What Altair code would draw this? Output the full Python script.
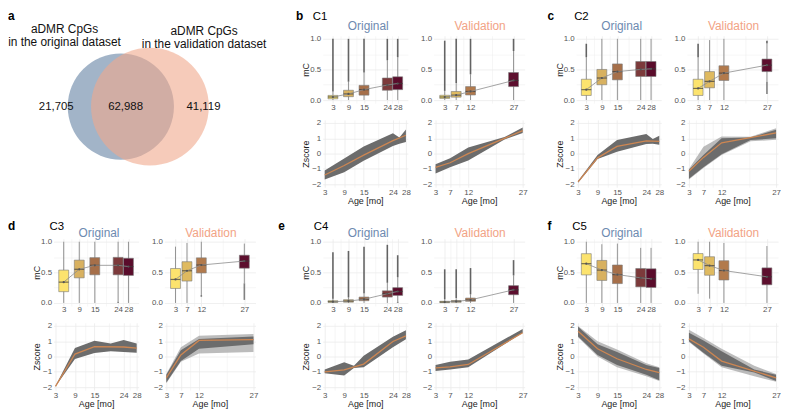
import math
import altair as alt
import pandas as pd

# ------------------------------------------------------------------ data
# panel a: Venn counts
VENN_ONLY_ORIG = 21705
VENN_BOTH = 62988
VENN_ONLY_VAL = 41119
VENN_NUMBER_LABELS = ["21,705", "62,988", "41,119"]
VENN_SET_TITLES = ["aDMR CpGs\nin the original dataset", "aDMR CpGs\nin the validation dataset"]

AGES_ORIG = [3, 9, 15, 24, 28]
AGES_VAL = [3, 7, 12, 27]
CLUSTERS = ["C1", "C2", "C3", "C4", "C5"]
PANEL_LETTERS = ["b", "c", "d", "e", "f"]
DATASETS = ["Original", "Validation"]

# box plots, one row per age: (outlier_min, whisker_lo, q1, median, q3, whisker_hi, outlier_max)
C1_ORIG_BOX = [(0, 0, 0.02, 0.05, 0.076, 0.14, 1.0), (0, 0, 0.055, 0.10, 0.16, 0.30, 1.0),
               (0, 0, 0.08, 0.17, 0.24, 0.45, 1.0), (0, 0, 0.16, 0.245, 0.36, 0.65, 1.0),
               (0, 0, 0.17, 0.27, 0.38, 0.70, 1.0)]
C1_VAL_BOX = [(0, 0, 0.026, 0.05, 0.078, 0.15, 0.97), (0, 0, 0.047, 0.08, 0.14, 0.28, 1.0),
              (0, 0, 0.083, 0.14, 0.22, 0.42, 1.0), (0, 0, 0.22, 0.32, 0.45, 0.80, 1.0)]
C2_ORIG_BOX = [(0, 0, 0.075, 0.17, 0.34, 0.70, 0.92), (0, 0, 0.25, 0.36, 0.50, 1.0, 1.0),
               (0, 0, 0.33, 0.465, 0.59, 1.0, 1.0), (0, 0, 0.385, 0.50, 0.63, 1.0, 1.0),
               (0, 0, 0.385, 0.51, 0.63, 1.0, 1.0)]
C2_VAL_BOX = [(0, 0, 0.075, 0.19, 0.34, 0.70, 0.92), (0, 0, 0.20, 0.305, 0.465, 0.98, 0.98),
              (0, 0, 0.32, 0.44, 0.56, 1.0, 1.0), (0.10, 0.30, 0.465, 0.57, 0.67, 0.93, 0.97)]
C3_ORIG_BOX = [(0, 0, 0.184, 0.34, 0.537, 1.0, 1.0), (0, 0, 0.41, 0.55, 0.70, 1.0, 1.0),
               (0, 0, 0.46, 0.615, 0.74, 1.0, 1.0), (0, 0.02, 0.46, 0.615, 0.745, 1.0, 1.0),
               (0, 0, 0.45, 0.595, 0.73, 1.0, 1.0)]
C3_VAL_BOX = [(0, 0, 0.237, 0.384, 0.563, 0.92, 0.92), (0, 0, 0.358, 0.526, 0.674, 0.98, 0.98),
              (0.10, 0.13, 0.49, 0.62, 0.737, 1.0, 1.0), (0.05, 0.32, 0.568, 0.684, 0.78, 0.97, 0.97)]
C4_ORIG_BOX = [(0, 0, 0.01, 0.02, 0.037, 0.07, 0.83), (0, 0, 0.012, 0.03, 0.053, 0.09, 0.85),
               (0, 0, 0.037, 0.06, 0.096, 0.16, 0.92), (0, 0, 0.096, 0.15, 0.198, 0.33, 0.95),
               (0, 0.02, 0.123, 0.187, 0.25, 0.42, 0.78)]
C4_VAL_BOX = [(0, 0, 0.005, 0.015, 0.027, 0.06, 0.55), (0, 0, 0.01, 0.025, 0.04, 0.08, 0.55),
              (0, 0, 0.027, 0.05, 0.08, 0.14, 0.57), (0, 0, 0.134, 0.214, 0.283, 0.45, 0.70)]
C5_ORIG_BOX = [(0, 0, 0.458, 0.642, 0.805, 1.0, 1.0), (0, 0, 0.368, 0.537, 0.695, 0.96, 0.96),
               (0, 0, 0.316, 0.463, 0.62, 0.97, 0.97), (0, 0, 0.263, 0.41, 0.563, 0.90, 0.90),
               (0, 0, 0.253, 0.395, 0.558, 0.90, 0.90)]
C5_VAL_BOX = [(0.15, 0.15, 0.547, 0.703, 0.807, 1.0, 1.0), (0.07, 0.07, 0.453, 0.61, 0.755, 1.0, 1.0),
              (0, 0, 0.375, 0.53, 0.69, 0.98, 0.98), (0, 0, 0.297, 0.427, 0.573, 0.93, 0.93)]

# z-score trajectories: mean per age, dense band envelope (age, lo, hi), faint outer envelope
C1_ORIG_MEAN = [-1.4, -0.78, -0.1, 0.85, 1.2]
C1_ORIG_BAND = [(3, -1.7, -1.1), (9, -1.22, -0.32), (15, -0.47, 0.47), (24, 0.5, 1.33), (26, 0.65, 1.05), (28, 0.75, 1.57)]
C1_VAL_MEAN = [-0.9, -0.6, 0.0, 1.5]
C1_VAL_BAND = [(3, -1.3, -0.7), (7, -0.9, -0.3), (12, -0.45, 0.4), (22, 0.92, 1.08), (27, 1.35, 1.7)]
C2_ORIG_MEAN = [-1.85, -0.28, 0.47, 0.83, 0.8]
C2_ORIG_BAND = [(3, -1.9, -1.8), (9, -0.36, -0.1), (15, 0.12, 0.88), (24, 0.62, 1.28), (26, 0.65, 0.95), (28, 0.58, 1.17)]
C2_VAL_MEAN = [-1.15, -0.25, 0.7, 1.35]
C2_VAL_BAND = [(3, -1.65, -1.05), (7, -0.9, -0.1), (12, -0.05, 1.0), (20, 0.88, 1.05), (27, 1.0, 1.55)]
C2_VAL_OUTER = [(3, -1.7, -1.0), (7, -0.95, 0.45), (12, -0.1, 1.12), (20, 0.8, 1.1), (27, 0.9, 1.65)]
C3_ORIG_MEAN = [-1.95, 0.16, 0.64, 0.62, 0.55]
C3_ORIG_BAND = [(3, -1.97, -1.93), (9, -0.16, 0.55), (15, 0.23, 1.03), (20, 0.35, 0.85), (24, 0.29, 1.07), (28, 0.25, 0.85)]
C3_VAL_MEAN = [-1.4, 0.1, 1.05, 1.1]
C3_VAL_BAND = [(3, -1.7, -1.2), (7, -0.3, 0.4), (12, 0.5, 1.15), (27, 0.8, 1.3)]
C3_VAL_OUTER = [(3, -1.75, -1.15), (7, -0.35, 0.6), (12, 0.2, 1.36), (27, 0.3, 1.47)]
C4_ORIG_MEAN = [-1.0, -0.88, -0.5, 0.98, 1.35]
C4_ORIG_BAND = [(3, -1.1, -0.85), (9, -1.24, -0.38), (12, -0.75, -0.6), (15, -0.7, 0.05), (24, 0.6, 1.29), (28, 1.13, 1.72)]
C4_VAL_MEAN = [-0.75, -0.68, -0.52, 1.55]
C4_VAL_BAND = [(3, -0.95, -0.55), (7, -0.85, -0.35), (12, -0.7, -0.2), (27, 1.55, 1.8)]
C5_ORIG_MEAN = [1.65, 0.5, -0.15, -0.85, -1.05]
C5_ORIG_BAND = [(3, 1.3, 1.95), (9, 0.1, 0.8), (15, -0.55, 0.3), (24, -1.2, -0.55), (28, -1.55, -0.75)]
C5_ORIG_OUTER = [(3, 1.25, 2.0), (9, 0.0, 1.0), (15, -0.7, 0.45), (24, -1.3, -0.45), (28, -1.6, -0.7)]
C5_VAL_MEAN = [1.15, 0.6, -0.3, -1.4]
C5_VAL_BAND = [(3, 1.0, 1.55), (7, 0.25, 1.05), (12, -0.6, 0.35), (21, -1.05, -0.85), (27, -1.6, -1.2)]
C5_VAL_OUTER = [(3, 0.95, 1.75), (7, 0.2, 1.2), (12, -0.7, 0.5), (21, -1.3, -0.6), (27, -1.65, -1.15)]

BOX_ORIG = [C1_ORIG_BOX, C2_ORIG_BOX, C3_ORIG_BOX, C4_ORIG_BOX, C5_ORIG_BOX]
BOX_VAL = [C1_VAL_BOX, C2_VAL_BOX, C3_VAL_BOX, C4_VAL_BOX, C5_VAL_BOX]
Z_ORIG = [(C1_ORIG_MEAN, C1_ORIG_BAND, None), (C2_ORIG_MEAN, C2_ORIG_BAND, None),
          (C3_ORIG_MEAN, C3_ORIG_BAND, None), (C4_ORIG_MEAN, C4_ORIG_BAND, None),
          (C5_ORIG_MEAN, C5_ORIG_BAND, C5_ORIG_OUTER)]
Z_VAL = [(C1_VAL_MEAN, C1_VAL_BAND, None), (C2_VAL_MEAN, C2_VAL_BAND, C2_VAL_OUTER),
         (C3_VAL_MEAN, C3_VAL_BAND, C3_VAL_OUTER), (C4_VAL_MEAN, C4_VAL_BAND, None),
         (C5_VAL_MEAN, C5_VAL_BAND, C5_VAL_OUTER)]

# ------------------------------------------------------------------ styles
FONT = "Liberation Sans"
AGE_FILL = {3: "#fce36e", 7: "#dfba60", 9: "#d8b160", 12: "#b27a4c", 15: "#a66f49",
            24: "#7c3a3b", 27: "#5d0f2e", 28: "#5a0c2b"}
TITLE_COLORS = {"Original": "#6d8ab0", "Validation": "#f2a385"}
BAND_DARK = "#6c6c6c"
BAND_LIGHT = "#a5a5a5"
MEAN_COLOR = "#cd8652"
GRID = "#ebebeb"
W_ORIG, W_VAL, H = 86, 92, 68
BOX_XDOM_ORIG = [0.98, 30.02]
BOX_XDOM_VAL = [0.85, 29.15]
Z_XDOM_ORIG = [2.4, 28.6]
Z_XDOM_VAL = [2.46, 27.54]
LETTER_DX = [-27, -29, -46, -45, -29]
NAME_DX = [-10, -2, -4, -9, -4]
BOX_COLS = ["omin", "lo", "q1", "med", "q3", "hi", "omax"]


def x_axis(ages, title, label_pad):
    mids = [(a + b) / 2 for a, b in zip(ages[:-1], ages[1:])]
    majors = "[" + ",".join(str(a) for a in ages) + "]"
    test = f"indexof({majors}, datum.value) >= 0"
    return alt.Axis(values=sorted(ages + mids), format="d",
                    labelExpr=f"{test} ? datum.label : ''",
                    gridWidth={"condition": {"test": test, "value": 0.8}, "value": 0.45},
                    title=title, labelFlush=False, labelOverlap=False, labelPadding=label_pad)


def box_chart(stats, ages, width, xdom, dataset, title_y, title_dx, header=None):
    df = pd.DataFrame(stats, columns=BOX_COLS)
    df["age"] = ages
    df["fill"] = [AGE_FILL[a] for a in ages]
    xs = alt.Scale(domain=xdom, nice=False, zero=False)
    ys = alt.Scale(domain=[-0.05, 1.05], nice=False, zero=False)
    minor = "datum.value == 0.25 || datum.value == 0.75"
    yax = alt.Axis(values=[0, 0.25, 0.5, 0.75, 1.0], format=".1f",
                   labelExpr=f"{minor} ? '' : datum.label",
                   gridWidth={"condition": {"test": minor, "value": 0.45}, "value": 0.8},
                   title="mC" if dataset == "Original" else None)
    X = alt.X("age:Q", scale=xs, axis=x_axis(ages, None, 0))

    def Y(f):
        return alt.Y(f, scale=ys, axis=yax)

    base = alt.Chart(df)
    layers = [
        base.mark_rule(color="#7a7a7a", strokeWidth=0.8).encode(x=X, y=Y("lo:Q"), y2="hi:Q"),
        base.mark_rule(color="#333333", strokeWidth=1.6, opacity=0.75).encode(x=X, y=Y("hi:Q"), y2="omax:Q"),
        base.mark_rule(color="#333333", strokeWidth=1.6, opacity=0.6).encode(x=X, y=Y("omin:Q"), y2="lo:Q"),
        base.mark_bar(size=10, stroke="#7a7a7a", strokeWidth=0.6).encode(
            x=X, y=Y("q1:Q"), y2="q3:Q", fill=alt.Fill("fill:N", scale=None)),
        base.mark_tick(orient="horizontal", size=10, thickness=1.2, color="#3a3a3a").encode(x=X, y=Y("med:Q")),
        base.mark_line(color="#8c8c8c", strokeWidth=0.8).encode(x=X, y=Y("med:Q")),
        base.mark_circle(size=5, color="#555555", opacity=1).encode(x=X, y=Y("med:Q")),
    ]
    tdf = pd.DataFrame({"t": [dataset]})
    layers.append(alt.Chart(tdf).mark_text(align="center", baseline="middle", fontSize=12, font=FONT,
                                           color=TITLE_COLORS[dataset])
                  .encode(text="t:N", x=alt.value(width / 2 + title_dx), y=alt.value(title_y)))
    if header is not None:
        letter, ldx, name, ndx, hy = header
        hdf = pd.DataFrame({"letter": [letter], "name": [name]})
        layers.append(alt.Chart(hdf).mark_text(align="left", baseline="alphabetic", fontSize=12,
                                               fontWeight="bold", font=FONT, color="black")
                      .encode(text="letter:N", x=alt.value(ldx), y=alt.value(hy)))
        layers.append(alt.Chart(hdf).mark_text(align="left", baseline="alphabetic", fontSize=11.5,
                                               font=FONT, color="black")
                      .encode(text="name:N", x=alt.value(ndx), y=alt.value(hy)))
    return alt.layer(*layers).properties(width=width, height=H)


def z_chart(ages, mean, band, outer, width, xdom, show_title):
    xs = alt.Scale(domain=xdom, nice=False, zero=False)
    ys = alt.Scale(domain=[-2.2, 2.2], nice=False, zero=False)
    minor = "datum.value % 1 != 0"
    yax = alt.Axis(values=[-2, -1.5, -1, -0.5, 0, 0.5, 1, 1.5, 2], format="d",
                   labelExpr=f"{minor} ? '' : datum.label",
                   gridWidth={"condition": {"test": minor, "value": 0.45}, "value": 0.8},
                   title="Zscore" if show_title else None)
    X = alt.X("age:Q", scale=xs, axis=x_axis(ages, "Age [mo]", 1.5))
    layers = []
    if outer is not None:
        odf = pd.DataFrame(outer, columns=["age", "lo", "hi"])
        layers.append(alt.Chart(odf).mark_area(color=BAND_LIGHT, opacity=0.75)
                      .encode(x=X, y=alt.Y("lo:Q", scale=ys, axis=yax), y2="hi:Q"))
    bdf = pd.DataFrame(band, columns=["age", "lo", "hi"])
    layers.append(alt.Chart(bdf).mark_area(color=BAND_DARK, opacity=1)
                  .encode(x=X, y=alt.Y("lo:Q", scale=ys, axis=yax), y2="hi:Q"))
    mdf = pd.DataFrame({"age": ages, "mean": mean})
    layers.append(alt.Chart(mdf).mark_line(color=MEAN_COLOR, strokeWidth=1.3)
                  .encode(x=X, y=alt.Y("mean:Q", scale=ys, axis=yax)))
    return alt.layer(*layers).properties(width=width, height=H)


def cluster_panel(i, header_y, title_y):
    bo = box_chart(BOX_ORIG[i], AGES_ORIG, W_ORIG, BOX_XDOM_ORIG, DATASETS[0], title_y, 3,
                   header=(PANEL_LETTERS[i], LETTER_DX[i], CLUSTERS[i], NAME_DX[i], header_y))
    bv = box_chart(BOX_VAL[i], AGES_VAL, W_VAL, BOX_XDOM_VAL, DATASETS[1], title_y, 1)
    zo = z_chart(AGES_ORIG, Z_ORIG[i][0], Z_ORIG[i][1], Z_ORIG[i][2], W_ORIG, Z_XDOM_ORIG, True)
    zv = z_chart(AGES_VAL, Z_VAL[i][0], Z_VAL[i][1], Z_VAL[i][2], W_VAL, Z_XDOM_VAL, False)
    row1 = alt.hconcat(bo, bv, spacing=26, bounds="flush")
    row2 = alt.hconcat(zo, zv, spacing=26, bounds="flush")
    return alt.vconcat(row1, row2, spacing=8)


def venn_chart():
    a1 = VENN_ONLY_ORIG + VENN_BOTH
    a2 = VENN_ONLY_VAL + VENN_BOTH
    r1 = math.sqrt(a1 / math.pi)
    r2 = math.sqrt(a2 / math.pi)

    def lens(d):
        c1 = max(-1.0, min(1.0, (d * d + r1 * r1 - r2 * r2) / (2 * d * r1)))
        c2 = max(-1.0, min(1.0, (d * d + r2 * r2 - r1 * r1) / (2 * d * r2)))
        k = (-d + r1 + r2) * (d + r1 - r2) * (d - r1 + r2) * (d + r1 + r2)
        return r1 * r1 * math.acos(c1) + r2 * r2 * math.acos(c2) - 0.5 * math.sqrt(max(k, 0.0))

    lo, hi = abs(r1 - r2) + 1e-9, r1 + r2
    for _ in range(200):
        mid = (lo + hi) / 2
        if lens(mid) > VENN_BOTH:
            lo = mid
        else:
            hi = mid
    d = (lo + hi) / 2

    VW, VH, X0, Y0, R2PX = 225, 140, 68, 71.5, 59.5
    px = R2PX / r2
    xs = alt.Scale(domain=[-X0 / px, (VW - X0) / px], nice=False, zero=False)
    ys = alt.Scale(domain=[-(VH - Y0) / px, Y0 / px], nice=False, zero=False)
    X = lambda f: alt.X(f, scale=xs, axis=None)
    Y = lambda f: alt.Y(f, scale=ys, axis=None)

    circ = pd.DataFrame({"x": [0.0, d], "y": [0.0, 0.0],
                         "size": [(2 * r1 * px) ** 2, (2 * r2 * px) ** 2]})
    blue = alt.Chart(circ.iloc[[0]]).mark_circle(color="#a2b4c8", opacity=1).encode(
        x=X("x:Q"), y=Y("y:Q"), size=alt.Size("size:Q", scale=None))
    salmon = alt.Chart(circ.iloc[[1]]).mark_circle(color="#f0a88c", opacity=0.6).encode(
        x=X("x:Q"), y=Y("y:Q"), size=alt.Size("size:Q", scale=None))

    nums = pd.DataFrame({"x": [-1.216 * r1, 0.09 * r1, d + 0.91 * r2], "y": [0.0, 0.0, 0.0],
                         "t": VENN_NUMBER_LABELS})
    num_text = alt.Chart(nums).mark_text(fontSize=11.5, font=FONT, color="#111111", baseline="middle").encode(
        x=X("x:Q"), y=Y("y:Q"), text="t:N")
    titles = pd.DataFrame({"x": [-1.06 * r1, d + 0.92 * r2],
                           "y": [74 / px, 72.7 / px], "t": VENN_SET_TITLES})
    title_text = alt.Chart(titles).mark_text(fontSize=12, font=FONT, color="#111111", baseline="alphabetic",
                                             lineBreak="\n", lineHeight=13.3).encode(
        x=X("x:Q"), y=Y("y:Q"), text="t:N")
    letter = alt.Chart(pd.DataFrame({"t": ["a"]})).mark_text(
        align="left", baseline="alphabetic", fontSize=12, fontWeight="bold", font=FONT, color="black").encode(
        text="t:N", x=alt.value(-46), y=alt.value(-15.5))
    return alt.layer(blue, salmon, num_text, title_text, letter).properties(width=VW, height=VH)


top = alt.hconcat(venn_chart(), cluster_panel(0, -15.6, -10.3), cluster_panel(1, -15.6, -10.3), spacing=20)
bottom = alt.hconcat(cluster_panel(2, -9.2, -5.3), cluster_panel(3, -9.2, -5.3), cluster_panel(4, -9.2, -5.3),
                     spacing=20)

chart = (
    alt.vconcat(top, bottom, spacing=13)
    .properties(padding=0, background="white")
    .configure(font=FONT)
    .configure_view(stroke=None)
    .configure_axis(domain=False, ticks=False, gridColor=GRID, labelColor="#555555", labelFont=FONT,
                    labelFontSize=8, titleFont=FONT, titleFontSize=9, titleFontWeight="normal",
                    titleColor="#1a1a1a")
    .configure_axisY(minExtent=11, maxExtent=11, titlePadding=1, labelPadding=2)
    .configure_axisX(minExtent=8, maxExtent=8, titlePadding=1.5)
)

chart.save("out.html", embed_options={"renderer": "svg", "actions": False})
